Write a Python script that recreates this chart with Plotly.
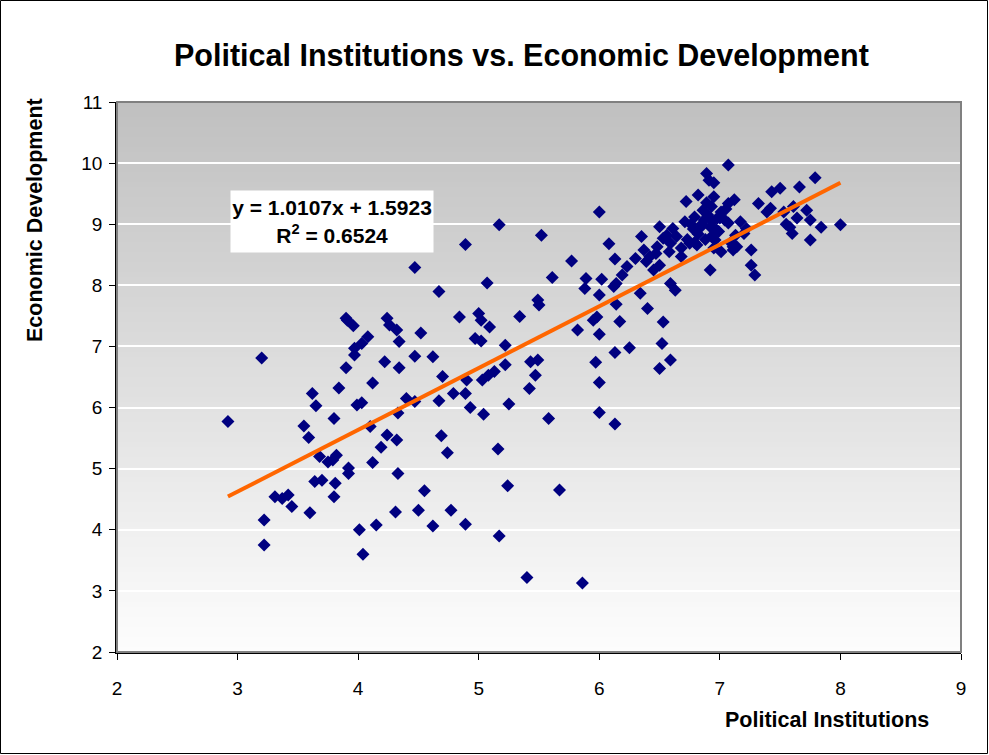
import plotly.graph_objects as go

# ---- data ----
political_institutions = [
    2.92, 3.20, 3.22, 3.22, 3.31, 3.37, 3.42, 3.45, 3.55, 3.59, 3.60, 3.62, 3.65, 3.64, 3.70,
    3.68, 3.75, 3.82, 3.79, 3.80, 3.81, 3.80, 3.84, 3.90, 3.91, 3.90, 3.96, 3.97, 3.97, 3.92,
    3.92, 3.99, 4.03, 4.01, 4.04, 4.03, 4.08, 4.10, 4.12, 4.12, 4.15, 4.19, 4.22, 4.24, 4.26,
    4.32, 4.24, 4.32, 4.33, 4.33, 4.31, 4.34, 4.34, 4.40, 4.47, 4.47, 4.47, 4.50, 4.52, 4.55,
    4.62, 4.62, 4.67, 4.67, 4.70, 4.69, 4.74, 4.77, 4.79, 4.84, 4.89, 4.89, 4.90, 4.89, 4.93,
    4.97, 5.00, 5.02, 5.02, 5.03, 5.04, 5.07, 5.08, 5.09, 5.13, 5.16, 5.17, 5.17, 5.22, 5.22,
    5.24, 5.25, 5.34, 5.40, 5.42, 5.43, 5.47, 5.49, 5.49, 5.50, 5.52, 5.58, 5.61, 5.67, 5.77,
    5.82, 5.86, 5.88, 5.89, 5.95, 5.98, 5.97, 6.00, 6.00, 6.00, 6.00, 6.00, 6.02, 6.08, 6.12,
    6.13, 6.14, 6.14, 6.13, 6.13, 6.17, 6.19, 6.23, 6.25, 6.34, 6.35, 6.40, 6.37, 6.42, 6.39,
    6.48, 6.50, 6.45, 6.50, 6.53, 6.53, 6.52, 6.50, 6.59, 6.59, 6.61, 6.59, 6.63, 6.68, 6.56,
    6.64, 6.71, 6.72, 6.79, 6.82, 6.86, 6.89, 6.91, 6.95, 6.93, 6.95, 7.01, 7.04, 7.07, 7.07,
    7.07, 6.92, 6.87, 6.92, 6.97, 6.93, 6.88, 6.82, 6.79, 6.68, 6.75, 6.81, 6.95, 7.01, 6.96,
    7.11, 7.11, 7.17, 7.22, 7.13, 7.14, 7.26, 7.26, 7.29, 7.32, 7.39, 7.42, 7.43, 7.50, 7.53,
    7.61, 7.64, 7.66, 7.72, 7.75, 7.60, 7.75, 7.79, 7.84, 8.00, 7.58, 7.55, 6.30, 6.47, 6.58,
    7.12, 7.20, 6.98, 6.84, 6.76, 6.90, 7.00, 6.85, 6.94, 7.05, 6.78, 6.99, 6.89, 6.73, 7.09,
]
economic_development = [
    5.77, 6.81, 4.16, 3.75, 4.54, 4.51, 4.57, 4.38, 5.70, 5.51, 4.28, 6.23, 6.03, 4.79, 4.81,
    5.20, 5.11, 5.22, 5.14, 5.82, 4.76, 4.54, 6.32, 6.65, 7.43, 7.46, 7.34, 6.97, 6.86, 5.01,
    4.92, 6.04, 6.08, 4.00, 3.60, 7.05, 7.16, 5.69, 6.40, 5.10, 4.08, 5.35, 6.75, 7.46, 7.35,
    7.27, 5.55, 5.47, 5.91, 4.92, 4.29, 7.08, 6.65, 6.15, 6.10, 6.84, 8.29, 4.32, 7.22, 4.64,
    6.83, 4.06, 7.90, 6.11, 6.51, 5.54, 5.26, 4.32, 6.23, 7.48, 8.67, 6.23, 6.45, 4.09, 6.00,
    7.13, 7.54, 7.43, 7.09, 6.45, 5.89, 8.04, 6.53, 7.32, 6.59, 5.32, 8.99, 3.90, 7.02, 6.70,
    4.72, 6.06, 7.49, 3.22, 6.31, 6.75, 6.53, 6.78, 7.76, 7.68, 8.82, 5.82, 8.13, 4.65, 8.40,
    7.27, 3.13, 7.95, 8.11, 7.43, 7.48, 6.74, 9.20, 7.84, 7.20, 6.41, 5.92, 8.10, 8.68, 7.98,
    8.43, 8.03, 7.69, 6.90, 5.73, 7.41, 8.17, 8.31, 6.98, 7.87, 8.80, 7.62, 8.58, 8.47, 8.39,
    8.63, 8.33, 8.25, 8.96, 8.77, 7.40, 7.05, 6.64, 6.78, 8.69, 8.93, 8.03, 7.92, 8.47, 8.82,
    8.80, 9.04, 9.37, 9.12, 9.48, 9.23, 9.83, 9.72, 9.68, 9.29, 9.45, 9.20, 9.07, 9.97, 9.34,
    9.02, 8.25, 9.07, 8.96, 8.91, 8.80, 8.75, 8.84, 8.70, 8.61, 8.69, 8.66, 8.61, 8.55, 8.74,
    8.63, 8.58, 9.04, 8.93, 8.82, 8.63, 8.58, 8.33, 8.17, 9.34, 9.20, 9.26, 9.53, 9.59, 9.20,
    9.29, 9.10, 9.61, 9.23, 9.07, 8.85, 8.74, 9.76, 8.95, 8.99, 8.95, 9.00, 8.44, 8.52, 8.55,
    9.40, 8.85, 9.10, 8.95, 9.00, 9.15, 9.10, 9.00, 9.05, 9.25, 8.92, 8.88, 9.35, 8.75, 8.70,
]

slope = 1.0107
intercept = 1.5923
r_squared = 0.6524

x_ticks = [2, 3, 4, 5, 6, 7, 8, 9]
y_ticks = [2, 3, 4, 5, 6, 7, 8, 9, 10, 11]

title_text = "Political Institutions vs. Economic Development"
x_title = "Political Institutions"
y_title = "Economic Development"

# ---- figure ----
FONT = "Liberation Sans, Arial, sans-serif"
W, H = 989, 755
L, R, T, B = 117, 28, 102, 103
PW, PH = W - L - R, H - T - B

fig = go.Figure()

fig.add_trace(go.Scatter(
    x=political_institutions, y=economic_development, mode="markers",
    marker=dict(symbol="diamond", size=10, color="#000080", line=dict(width=0)),
    showlegend=False,
))
x_min, x_max = min(political_institutions), max(political_institutions)
fig.add_trace(go.Scatter(
    x=[x_min, x_max],
    y=[slope * x_min + intercept, slope * x_max + intercept],
    mode="lines", line=dict(color="#FF6600", width=4),
    hoverinfo="skip", showlegend=False,
))

shapes = []
n = 110
for i in range(n):
    f = i / (n - 1)
    c = int(round(192 + (253 - 192) * f))
    shapes.append(dict(
        type="rect", xref="paper", yref="paper",
        x0=0, x1=1, y0=1 - (i + 1) / n, y1=1 - i / n,
        fillcolor=f"rgb({c},{c},{c})", line=dict(width=0), layer="below",
    ))
shapes.append(dict(type="rect", xref="paper", yref="paper", x0=0, x1=1, y0=0, y1=1,
                   line=dict(color="#808080", width=2), layer="above"))
shapes.append(dict(type="rect", xref="paper", yref="paper",
                   x0=(-L + 0.5) / PW, x1=1 + (R - 1.5) / PW,
                   y0=(-B + 1.5) / PH, y1=1 + (T - 0.5) / PH,
                   line=dict(color="#000000", width=1), layer="above"))

annotations = [
    dict(text=f"<b>{title_text}</b>", xref="paper", yref="paper",
         x=(521 - L) / PW, y=1 + (T - 55) / PH, xanchor="center", yanchor="middle",
         showarrow=False, font=dict(family=FONT, size=30.5, color="#000000")),
    dict(text=f"<b>{x_title}</b>", xref="paper", yref="paper",
         x=(931 - L) / PW, y=-(720 - T - PH) / PH, xanchor="right", yanchor="middle",
         showarrow=False, font=dict(family=FONT, size=21.5, color="#000000")),
    dict(text=f"<b>{y_title}</b>", xref="paper", yref="paper",
         x=(35 - L) / PW, y=1 - (220 - T) / PH, xanchor="center", yanchor="middle",
         textangle=-90, showarrow=False, font=dict(family=FONT, size=21.5, color="#000000")),
    dict(text=f"<b>y = {slope:.4f}x + {intercept:.4f}<br>R<sup>2</sup> = {r_squared:.4f}</b>",
         xref="paper", yref="paper",
         x=(332 - L) / PW, y=1 - (221.5 - T) / PH, xanchor="center", yanchor="middle",
         showarrow=False, align="center", bgcolor="#FFFFFF", borderpad=0,
         width=202, height=61,
         font=dict(family=FONT, size=21, color="#000000")),
]

fig.update_layout(
    width=W, height=H,
    margin=dict(l=L, r=R, t=T, b=B, pad=0),
    paper_bgcolor="#FFFFFF", plot_bgcolor="rgba(0,0,0,0)",
    shapes=shapes, annotations=annotations,
    font=dict(family=FONT, size=19, color="#000000"),
    xaxis=dict(range=[2, 9], tickvals=x_ticks, ticks="outside", ticklen=6,
               tickcolor="#000000", showline=True, linecolor="#000000", linewidth=1.5,
               showgrid=False, zeroline=False, ticklabelstandoff=12,
               tickfont=dict(family=FONT, size=19, color="#000000")),
    yaxis=dict(range=[2, 11], tickvals=y_ticks, ticks="outside", ticklen=6,
               tickcolor="#000000", showline=True, linecolor="#000000", linewidth=1.5,
               showgrid=True, gridcolor="#FFFFFF", gridwidth=1.5, zeroline=False,
               ticklabelstandoff=3,
               tickfont=dict(family=FONT, size=19, color="#000000")),
)

fig.write_html("out.html", config={"displayModeBar": False},
               post_script="document.body.style.margin='0';document.body.style.overflow='hidden';")
